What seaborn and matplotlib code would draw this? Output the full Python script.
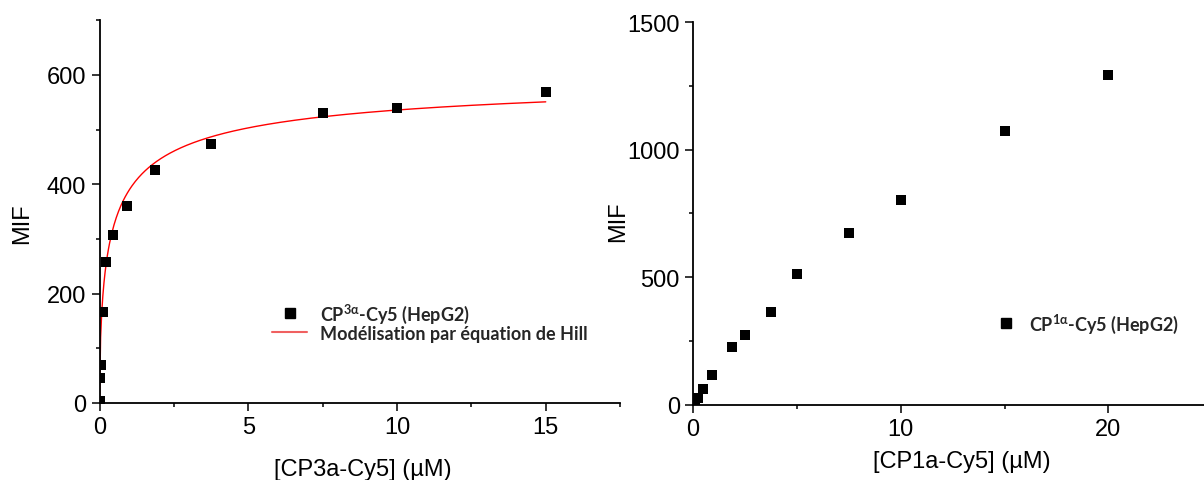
import numpy as np
import pandas as pd
import matplotlib
matplotlib.use("Agg")
import matplotlib.pyplot as plt
from matplotlib.ticker import MultipleLocator
from matplotlib.lines import Line2D
import seaborn as sns

# ---- data: left panel (CP3a-Cy5) ----
conc_3a = [15, 10, 7.5, 3.75, 1.875, 0.9375, 0.469, 0.234, 0.117, 0.059, 0.029, 0.0]
mif_3a = [568, 539, 530, 474, 426, 361, 307, 258, 166, 70, 45, 3]
# Hill fit parameters (model curve)
hill_vmax = 613.0
hill_k = 0.395
hill_n = 0.6
hill_xmax = 15.0

# ---- data: right panel (CP1a-Cy5) ----
conc_1a = [20, 15, 10, 7.5, 5, 3.75, 2.5, 1.875, 0.9375, 0.469, 0.234, 0.117]
mif_1a = [1295, 1075, 801, 673, 511, 363, 274, 225, 114, 59, 25, 16]

label_3a = r"CP$^{\mathbf{3\alpha}}$-Cy5 (HepG2)"
label_hill = "Modélisation par équation de Hill"
label_1a = r"CP$^{\mathbf{1\alpha}}$-Cy5 (HepG2)"
xlabel_3a = "[CP3a-Cy5] (µM)"
xlabel_1a = "[CP1a-Cy5] (µM)"
ylabel = "MIF"

sns.set_theme(style="ticks")
plt.rcParams["font.family"] = ["Liberation Sans", "DejaVu Sans"]
plt.rcParams["mathtext.fontset"] = "custom"
plt.rcParams["mathtext.bf"] = "Lato:bold"
plt.rcParams["mathtext.rm"] = "Lato:bold"

W, H = 1204, 481
fig = plt.figure(figsize=(W / 100, H / 100), dpi=100)

def px_axes(x0, x1, ytop, ybot):
    return [x0 / W, 1 - ybot / H, (x1 - x0) / W, (ybot - ytop) / H]

ax1 = fig.add_axes(px_axes(99.5, 99.5 + 17.5 * 29.75, 404 - 700 * 0.5467, 404))
ax2 = fig.add_axes(px_axes(693, 693 + 25 * 20.77, 405.5 - 1500 * 0.2548, 405.5))

# left panel
df3 = pd.DataFrame({"x": conc_3a, "y": mif_3a})
xs = np.linspace(0, hill_xmax, 400)
ys = hill_vmax * xs ** hill_n / (hill_k ** hill_n + xs ** hill_n)
dfh = pd.DataFrame({"x": xs, "y": ys})
sns.lineplot(data=dfh, x="x", y="y", ax=ax1, color="red", linewidth=1.0, zorder=2)
sns.scatterplot(data=df3, x="x", y="y", ax=ax1, marker="s", s=46, color="black",
                edgecolor="black", linewidth=0, zorder=3)

# right panel
df1 = pd.DataFrame({"x": conc_1a, "y": mif_1a})
sns.scatterplot(data=df1, x="x", y="y", ax=ax2, marker="s", s=46, color="black",
                edgecolor="black", linewidth=0, zorder=3)

for ax, xmax, ymax, xmaj, xmin_, ymaj, ymin_ in [
    (ax1, 17.5, 700, 5, 2.5, 200, 100),
    (ax2, 25, 1500, 10, 5, 500, 250),
]:
    ax.set_xlim(0, xmax)
    ax.set_ylim(0, ymax)
    ax.xaxis.set_major_locator(MultipleLocator(xmaj))
    ax.xaxis.set_minor_locator(MultipleLocator(xmin_))
    ax.yaxis.set_major_locator(MultipleLocator(ymaj))
    ax.yaxis.set_minor_locator(MultipleLocator(ymin_))
    for s in ["top", "right"]:
        ax.spines[s].set_visible(False)
    for s in ["left", "bottom"]:
        ax.spines[s].set_color("black")
        ax.spines[s].set_linewidth(1.3)
        ax.spines[s].set_zorder(4)
    ax.tick_params(which="major", direction="out", length=5.5, width=1.1,
                   color="black", labelsize=17, labelcolor="black", pad=4)
    ax.tick_params(which="minor", direction="out", length=3.2, width=1.1, color="black")
    ax.set_facecolor("white")
    ax.grid(False)

ax1.set_yticks([0, 200, 400, 600])
ax2.set_yticks([0, 500, 1000, 1500])
ax2.set_xticks([0, 10, 20])

ax1.set_xlabel(xlabel_3a, fontsize=17, color="black")
ax1.set_ylabel(ylabel, fontsize=17, color="black")
ax2.set_xlabel(xlabel_1a, fontsize=17, color="black")
ax2.set_ylabel(ylabel, fontsize=17, color="black")
ax1.xaxis.set_label_coords(0.505, -0.145)
ax1.yaxis.set_label_coords(-0.128, 0.47)
ax2.xaxis.set_label_coords(0.518, -0.118)
ax2.yaxis.set_label_coords(-0.123, 0.48)

# legends
h_pts = Line2D([], [], marker="s", linestyle="none", color="black", markersize=6.8)
h_line = Line2D([], [], color="#f06060", linewidth=1.5)
leg_prop = {"family": "Lato", "weight": "bold", "size": 13}
leg1 = ax1.legend([h_pts, h_line], [label_3a, label_hill], frameon=False,
                  loc="center left", bbox_to_anchor=(272 / W, 1 - 322.5 / H),
                  bbox_transform=fig.transFigure, handlelength=1.94,
                  handletextpad=0.72, labelspacing=0.0, borderpad=0,
                  borderaxespad=0, prop=leg_prop)
leg2 = ax2.legend([h_pts], [label_1a], frameon=False,
                  loc="center left", bbox_to_anchor=(993 / W, 1 - 324 / H),
                  bbox_transform=fig.transFigure, handlelength=1.4,
                  handletextpad=0.6, borderpad=0, borderaxespad=0, prop=leg_prop)

fig.savefig("out.png", dpi=100, facecolor="white")
